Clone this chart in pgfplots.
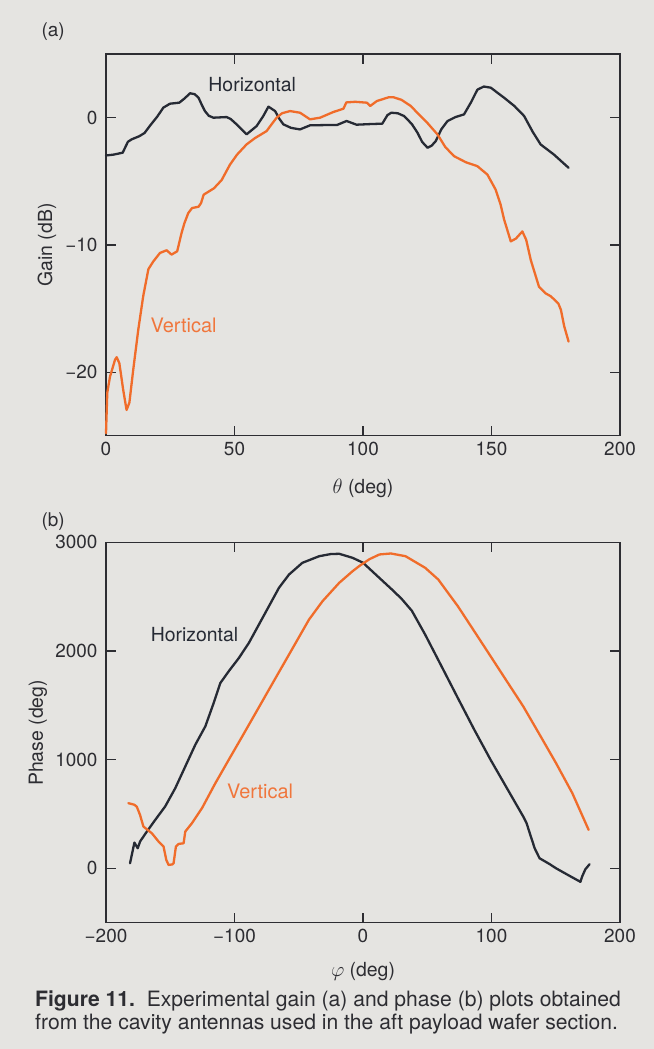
\documentclass[border=0pt]{standalone}
\usepackage{pgfplots}
\pgfplotsset{compat=1.18}
\usepackage{fontspec}
\setmainfont{TeX Gyre Heros}
\definecolor{bgcol}{RGB}{229,228,225}
\definecolor{axiscol}{RGB}{45,45,50}
\definecolor{hcol}{RGB}{38,42,52}
\definecolor{vcol}{RGB}{240,108,42}
\definecolor{vtext}{RGB}{240,118,60}
\begin{document}
\begin{tikzpicture}[x=1bp,y=1bp]
\fill[bgcol] (0,0) rectangle (654,1049);
\useasboundingbox (0,0) rectangle (654,1049);
\pgfplotsset{
  mystyle/.style={
    scale only axis,
    anchor=south west,
    tick align=inside,
    major tick length=10bp,
    axis line style={line width=1.3bp, color=axiscol},
    tick style={line width=1.2bp, color=axiscol},
    every tick label/.append style={font=\fontsize{19}{19}\selectfont, text=axiscol},
    yticklabel style={xshift=-5bp},
    xticklabel style={yshift=-3bp},
    clip=false,
  },
  hline/.style={color=hcol, line width=2.3bp, line join=round, line cap=round},
  vline/.style={color=vcol, line width=2.3bp, line join=round, line cap=round},
}
% ---------------- (a) ----------------
\begin{axis}[mystyle,
  at={(106bp,613.2bp)}, width=514bp, height=381.7bp,
  xmin=0, xmax=200, ymin=-25, ymax=5,
  xtick={0,50,100,150,200}, xticklabels={0,50,100,150,200},
  ytick={-20,-10,0}, yticklabels={−20,−10,0},
]
\addplot[hline] coordinates {
(0,-2.97)(3,-2.9)(6.5,-2.75)(8.5,-1.9)(10,-1.7)(13,-1.45)(15,-1.2)(17,-0.66)(20,0.1)(22.3,0.79)(24.9,1.1)(28.5,1.18)(30.5,1.5)(32.7,1.92)(34.5,1.85)(36,1.57)(37.3,1.0)(38.5,0.52)(40,0.15)(41.8,0)(46.9,0.05)(48.5,-0.1)(50.8,-0.52)(54.7,-1.31)(58.6,-0.66)(61.2,0.13)(63.2,0.87)(65.8,0.52)(67.5,-0.1)(69,-0.52)(72,-0.8)(75.5,-0.92)(79.4,-0.6)(85,-0.58)(89.8,-0.58)(93.6,-0.26)(97.5,-0.55)(103,-0.5)(107.5,-0.47)(109.5,0.2)(111,0.39)(113.5,0.35)(116,0.13)(119,-0.5)(121.2,-1.18)(123,-1.9)(125.1,-2.36)(126.7,-2.2)(128.3,-1.84)(130.5,-0.9)(132.9,-0.26)(136,0.05)(139.3,0.26)(142,1.2)(144.5,2.2)(147,2.45)(149.7,2.36)(154.9,1.57)(159,0.9)(162.7,0.13)(166,-1.1)(169.1,-2.1)(174.3,-2.9)(180,-3.94)
};
\addplot[vline] coordinates {
(0,-24.8)(0.5,-21.6)(1.56,-20.35)(3.5,-19.03)(4.15,-18.82)(5.2,-19.3)(6.7,-21.4)(8,-22.97)(9.1,-22.4)(10.6,-19.8)(12.6,-16.6)(14.5,-14.0)(16.5,-11.9)(18.4,-11.3)(21,-10.63)(23.6,-10.42)(25.5,-10.76)(27.7,-10.5)(29.4,-9.06)(30.5,-8.3)(32,-7.5)(33.5,-7.1)(36,-7.0)(37,-6.7)(38,-6.05)(40,-5.8)(42,-5.55)(45,-4.9)(48.2,-3.7)(51,-2.9)(54.7,-2.1)(58,-1.6)(62.5,-1.05)(64.5,-0.5)(66.4,0)(68.5,0.35)(71.6,0.52)(75.5,0.39)(79.4,-0.13)(83.3,0)(88.5,0.45)(92.4,0.71)(93.5,1.2)(97,1.25)(101.5,1.18)(102.8,0.92)(105.4,1.31)(109.9,1.6)(112,1.6)(115,1.4)(118.6,0.92)(122,0.2)(125,-0.4)(129,-1.32)(132,-2.3)(135.4,-3.02)(140,-3.5)(144.5,-3.81)(148.4,-4.47)(151.6,-5.65)(153.5,-6.8)(154.9,-8.0)(157.5,-9.72)(159.5,-9.5)(162,-8.94)(163.5,-9.6)(165.3,-11.2)(168.5,-13.3)(171,-13.8)(173.1,-14.04)(176,-14.6)(177,-15.1)(178.3,-16.4)(180,-17.6)
};
\node[anchor=west, text=hcol, font=\fontsize{19.5}{20}\selectfont] at (axis cs:38.5,2.6) {Horizontal};
\node[anchor=west, text=vtext, font=\fontsize{20}{20}\selectfont] at (axis cs:16,-16.3) {Vertical};
\end{axis}
% ---------------- (b) ----------------
\begin{axis}[mystyle,
  at={(106bp,126.4bp)}, width=514bp, height=380.3bp,
  xmin=-200, xmax=200, ymin=-500, ymax=3000,
  xtick={-200,-100,0,100,200}, xticklabels={−200,−100,0,100,200},
  ytick={0,1000,2000,3000}, yticklabels={0,1000,2000,3000},
]
\addplot[hline] coordinates {
(-181.3,46)(-177.9,236)(-175.3,184)(-173.5,246)(-168.2,338)(-161.7,445)(-154,568)(-146.1,737)(-138.3,937)(-130.5,1137)(-122.7,1306)(-116.2,1521)(-111,1705)(-104.5,1813)(-96.6,1935)(-88.8,2074)(-81,2243)(-73.2,2412)(-65.4,2581)(-57.6,2703)(-47.2,2811)(-34.1,2872)(-25,2892)(-18.5,2894)(-8.1,2857)(0,2812)(10.2,2700)(23,2560)(30,2480)(38,2370)(48.4,2150)(61.1,1859)(73.8,1567)(86.6,1275)(99.3,998)(112,737)(124.7,476)(127.3,415)(129.8,322)(133.6,184)(137.4,92)(145,40)(150.2,0)(160,-65)(169.2,-125)(170.5,-77)(173,-10)(176.3,37)
};
\addplot[vline] coordinates {
(-182.6,599)(-178,585)(-176.1,568)(-173.5,491)(-170.9,384)(-164.3,322)(-159.1,246)(-155.2,200)(-153.1,77)(-151.3,31)(-148.5,35)(-147.4,46)(-145.6,200)(-143.5,224)(-139.6,230)(-138.3,338)(-133.1,415)(-125.3,553)(-114.9,783)(-104.5,998)(-94,1213)(-83.6,1428)(-73.2,1644)(-62.8,1859)(-52.4,2074)(-42,2289)(-31.5,2458)(-18.5,2627)(-8.1,2734)(-2.5,2785)(5.1,2845)(12.8,2888)(21.7,2897)(33.1,2872)(48.4,2765)(58.6,2657)(66.2,2534)(73.8,2412)(86.6,2181)(99.3,1951)(112,1720)(124.7,1490)(137.5,1229)(150.2,968)(162.9,691)(175.6,353)
};
\node[anchor=west, text=hcol, font=\fontsize{19.5}{20}\selectfont] at (axis cs:-167.9,2150) {Horizontal};
\node[anchor=west, text=vtext, font=\fontsize{20}{20}\selectfont] at (axis cs:-108.5,707) {Vertical};
\end{axis}
% ---------------- labels ----------------
\node[anchor=west, text=axiscol, font=\fontsize{19}{19}\selectfont] at (38,1017) {(a)};
\node[anchor=west, text=axiscol, font=\fontsize{19}{19}\selectfont] at (38,527) {(b)};
\node[text=axiscol, font=\fontsize{19.5}{20}\selectfont] at (363,561) {$\theta$ (deg)};
\node[text=axiscol, font=\fontsize{19.5}{20}\selectfont] at (363,77) {$\varphi$ (deg)};
\node[rotate=90, text=axiscol, font=\fontsize{19.5}{20}\selectfont] at (47,804) {Gain (dB)};
\node[rotate=90, text=axiscol, font=\fontsize{19.5}{20}\selectfont] at (38,316) {Phase (deg)};
\node[anchor=base west, text=axiscol, font=\fontsize{21.2}{21}\selectfont, inner sep=0] at (35,42) {\textbf{Figure 11.}\ \ Experimental gain (a) and phase (b) plots obtained};
\node[anchor=base west, text=axiscol, font=\fontsize{21.2}{21}\selectfont, inner sep=0] at (35,19) {from the cavity antennas used in the aft payload wafer section.};
\end{tikzpicture}
\end{document}
